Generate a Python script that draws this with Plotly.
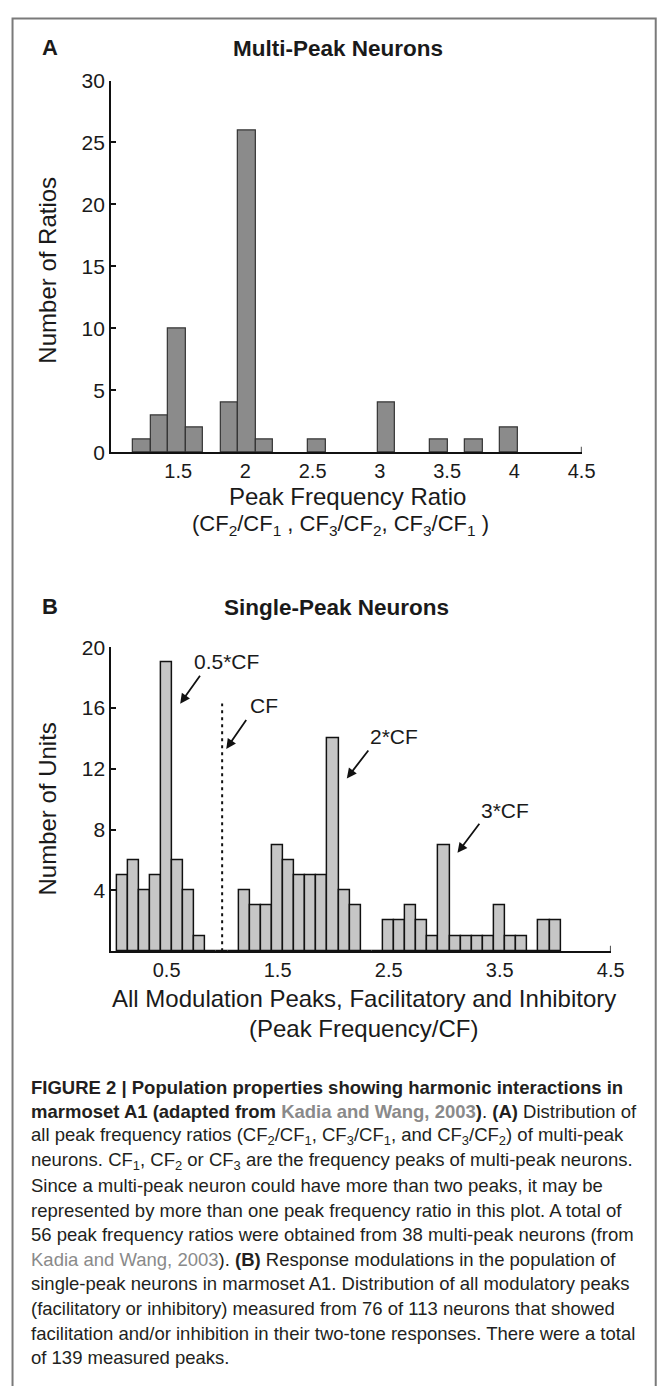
import plotly.graph_objects as go

# ---------------- data ----------------
# Panel A: multi-peak neurons, peak frequency ratio histogram
ratio_bins = [1.23, 1.36, 1.49, 1.62, 1.88, 2.01, 2.14, 2.53, 3.05, 3.44, 3.70, 3.96]
ratio_counts = [1, 3, 10, 2, 4, 26, 1, 1, 4, 1, 1, 2]
ratio_bar_width = 0.131
a_xticks = [1.5, 2, 2.5, 3, 3.5, 4, 4.5]
a_xticktext = ["1.5", "2", "2.5", "3", "3.5", "4", "4.5"]
a_yticks = [0, 5, 10, 15, 20, 25, 30]

# Panel B: single-peak neurons, modulation peaks (Peak Frequency / CF)
mod_bins = [0.1, 0.2, 0.3, 0.4, 0.5, 0.6, 0.7, 0.8, 0.9, 1.0,
            1.1, 1.2, 1.3, 1.4, 1.5, 1.6, 1.7, 1.8, 1.9, 2.0,
            2.1, 2.2, 2.3, 2.4, 2.5, 2.6, 2.7, 2.8, 2.9, 3.0,
            3.1, 3.2, 3.3, 3.4, 3.5, 3.6, 3.7, 3.8, 3.9, 4.0]
mod_counts = [5, 6, 4, 5, 19, 6, 4, 1, 0, 0,
              0, 4, 3, 3, 7, 6, 5, 5, 5, 14,
              4, 3, 0, 0, 2, 2, 3, 2, 1, 7,
              1, 1, 1, 1, 3, 1, 1, 0, 2, 2]
mod_bar_width = 0.1
b_xticks = [0.5, 1.5, 2.5, 3.5, 4.5]
b_xticktext = ["0.5", "1.5", "2.5", "3.5", "4.5"]
b_yticks = [4, 8, 12, 16, 20]
cf_value = 1.0
cf_line_top = 16.3

# harmonic labels
harmonics = ["0.5*CF", "CF", "2*CF", "3*CF"]

caption_lines = [
    "<b>FIGURE 2 | Population properties showing harmonic interactions in</b>",
    "<b>marmoset A1 (adapted from <span style='color:#8a8a8a'>Kadia and Wang, 2003</span>)</b>. <b>(A)</b> Distribution of",
    "all peak frequency ratios (CF<sub>2</sub>/CF<sub>1</sub>, CF<sub>3</sub>/CF<sub>1</sub>, and CF<sub>3</sub>/CF<sub>2</sub>) of multi-peak",
    "neurons. CF<sub>1</sub>, CF<sub>2</sub> or CF<sub>3</sub> are the frequency peaks of multi-peak neurons.",
    "Since a multi-peak neuron could have more than two peaks, it may be",
    "represented by more than one peak frequency ratio in this plot. A total of",
    "56 peak frequency ratios were obtained from 38 multi-peak neurons (from",
    "<span style='color:#8a8a8a'>Kadia and Wang, 2003</span>). <b>(B)</b> Response modulations in the population of",
    "single-peak neurons in marmoset A1. Distribution of all modulatory peaks",
    "(facilitatory or inhibitory) measured from 76 of 113 neurons that showed",
    "facilitation and/or inhibition in their two-tone responses. There were a total",
    "of 139 measured peaks.",
]

# ---------------- layout helpers ----------------
W, H = 671, 1386
FONT = "Liberation Sans, Arial, Helvetica, sans-serif"
TXT = "#1a1a1a"


def fx(px):
    return px / W


def fy(py):
    return 1 - py / H


fig = go.Figure()

fig.add_trace(go.Bar(
    x=ratio_bins, y=ratio_counts, width=ratio_bar_width,
    marker=dict(color="#8b8b8b", line=dict(color="#333333", width=1.2)),
    xaxis="x", yaxis="y", showlegend=False, hoverinfo="x+y"))

fig.add_trace(go.Bar(
    x=mod_bins, y=mod_counts, width=mod_bar_width,
    marker=dict(color="#c6c6c6", line=dict(color="#111111", width=1.5)),
    xaxis="x2", yaxis="y2", showlegend=False, hoverinfo="x+y"))

fig.add_trace(go.Scatter(
    x=[cf_value, cf_value], y=[0, cf_line_top], mode="lines",
    line=dict(color="#111111", width=2, dash="3px,4px"),
    xaxis="x2", yaxis="y2", showlegend=False, hoverinfo="skip"))

axis_common = dict(showgrid=False, zeroline=False, showline=True, linecolor="#111111",
                   tickfont=dict(family=FONT, size=20, color=TXT), fixedrange=True)

fig.update_layout(
    width=W, height=H, margin=dict(l=0, r=0, t=0, b=0),
    paper_bgcolor="white", plot_bgcolor="white",
    font=dict(family=FONT, color=TXT),
    xaxis=dict(domain=[fx(113.3), fx(594)], range=[1, 4.5], anchor="y",
               tickvals=a_xticks, ticktext=a_xticktext, ticks="", linewidth=2.2,
               **axis_common),
    yaxis=dict(domain=[fy(447.7), fy(69.7)], range=[0, 30], anchor="x",
               tickvals=a_yticks, ticks="inside", ticklen=5, tickwidth=1.5,
               tickcolor="#111111", linewidth=1.6, **axis_common),
    xaxis2=dict(domain=[fx(113.5), fx(623.7)], range=[0, 4.5], anchor="y2",
                tickvals=b_xticks, ticktext=b_xticktext, ticks="", linewidth=2.2,
                **axis_common),
    yaxis2=dict(domain=[fy(955), fy(646)], range=[0, 20], anchor="x2",
                tickvals=b_yticks, ticks="inside", ticklen=5, tickwidth=1.5,
                tickcolor="#111111", linewidth=1.6, **axis_common),
    bargap=0,
)
fig.update_yaxes(tickfont=dict(size=21))

# end ticks on the x axes
fig.add_shape(type="line", xref="x", yref="y domain", x0=4.5, x1=4.5, y0=0, y1=0.015,
              line=dict(color="#111111", width=1.5))
fig.add_shape(type="line", xref="x2", yref="y2 domain", x0=4.5, x1=4.5, y0=0, y1=0.018,
              line=dict(color="#111111", width=1.5))

# outer frame
fig.add_shape(type="rect", xref="paper", yref="paper", x0=fx(12.8), x1=fx(669.7),
              y0=-0.02, y1=fy(6.7), line=dict(color="#7a7a7a", width=2))

ann = []


def text(px, py, s, size, bold=False, xanchor="center", color=TXT, textangle=0):
    ann.append(dict(x=fx(px), y=fy(py), xref="paper", yref="paper",
                    text=("<b>%s</b>" % s) if bold else s, showarrow=False,
                    xanchor=xanchor, yanchor="middle", textangle=textangle,
                    font=dict(family=FONT, size=size, color=color)))


# panel letters and titles
text(51, 36, "A", 22, bold=True)
text(345, 37, "Multi-Peak Neurons", 22.5, bold=True)
text(51, 605, "B", 22, bold=True)
text(343.5, 606, "Single-Peak Neurons", 22.5, bold=True)

# axis titles
text(49, 262, "Number of Ratios", 24, textangle=-90)
text(355, 493, "Peak Frequency Ratio", 24)
text(348, 522, "(CF<sub>2</sub>/CF<sub>1</sub> , CF<sub>3</sub>/CF<sub>2</sub>, CF<sub>3</sub>/CF<sub>1</sub> )", 22)
text(49, 810, "Number of Units", 24, textangle=-90)
text(371.6, 1003, "All Modulation Peaks, Facilitatory and Inhibitory", 24)
text(371.5, 1034, "(Peak Frequency/CF)", 24)

# harmonic labels and arrows (panel B, data coordinates)
label_pos = [(1.036, 19.09), (1.377, 16.18), (2.552, 14.13), (3.549, 9.27)]
arrow_tail = [(0.81, 18.23), (1.226, 15.32), (2.327, 13.31), (3.327, 8.48)]
arrow_head = [(0.622, 16.29), (1.037, 13.31), (2.123, 11.37), (3.12, 6.47)]
for lab, (lx, ly), (tx, ty), (hx, hy) in zip(harmonics, label_pos, arrow_tail, arrow_head):
    ann.append(dict(x=lx, y=ly, xref="x2", yref="y2", text=lab, showarrow=False,
                    xanchor="center", yanchor="middle",
                    font=dict(family=FONT, size=21, color=TXT)))
    ann.append(dict(x=hx, y=hy, ax=tx, ay=ty, xref="x2", yref="y2", axref="x2", ayref="y2",
                    text="", showarrow=True, arrowhead=2, arrowsize=1.1, arrowwidth=1.8,
                    arrowcolor="#111111", standoff=0, startstandoff=0))

# caption
for i, line in enumerate(caption_lines):
    text(30, 1093.3 + 25 * i, line, 18.5, xanchor="left", color="#231f20")

fig.update_layout(annotations=ann)
fig.write_html("out.html")
